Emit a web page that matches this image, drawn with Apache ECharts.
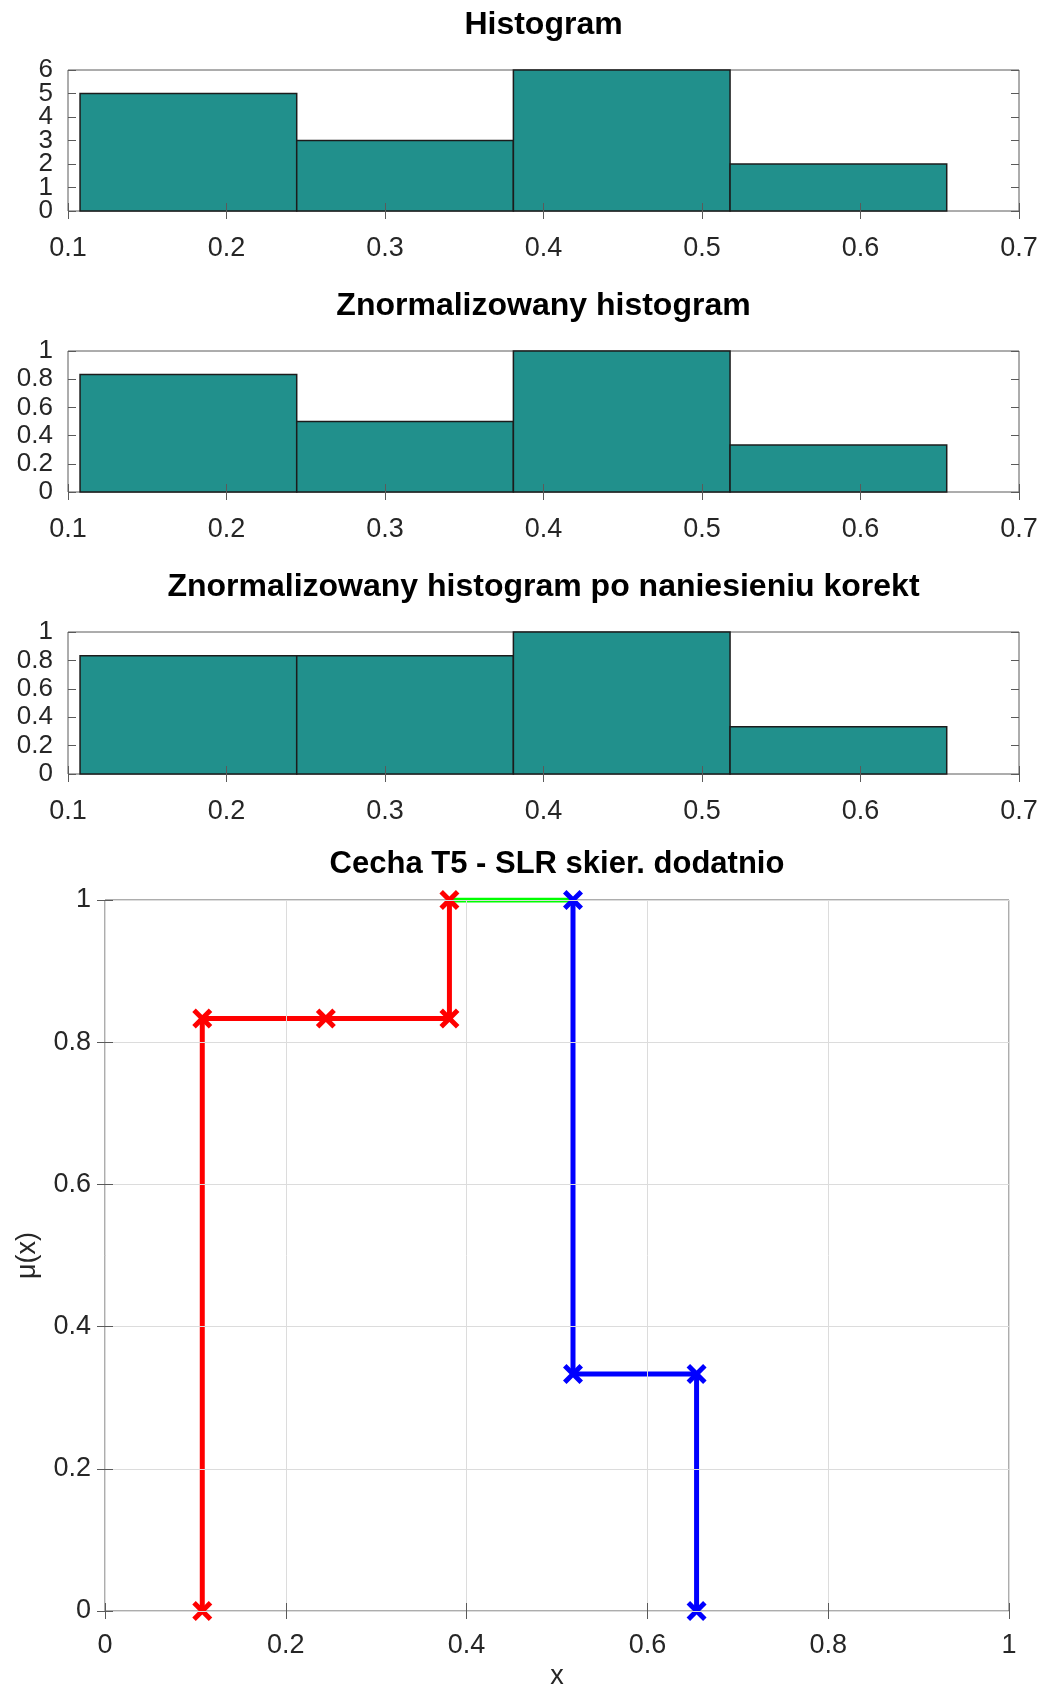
<!DOCTYPE html>
<html><head><meta charset="utf-8">
<script src="https://cdn.jsdelivr.net/npm/echarts@6/dist/echarts.min.js"></script>
<style>html,body{margin:0;padding:0;background:#fff}#chart{width:1043px;height:1690px}</style>
</head><body><div id="chart"></div>
<script>
// ---- data ----
const binEdges = [0.1076, 0.2443, 0.3810, 0.5177, 0.6544];
const counts = [5, 3, 6, 2];
const normalized = [0.8333, 0.5, 1, 0.3333];
const corrected = [0.8333, 0.8333, 1, 0.3333];

const redX = [0.1076, 0.1076, 0.2443, 0.3810, 0.3810];
const redY = [0, 0.8333, 0.8333, 0.8333, 1];
const greenX = [0.3810, 0.5177];
const greenY = [1, 1];
const blueX = [0.5177, 0.5177, 0.6544, 0.6544];
const blueY = [1, 0.3333, 0.3333, 0];

const titles = ['Histogram', 'Znormalizowany histogram',
  'Znormalizowany histogram po naniesieniu korekt', 'Cecha T5 - SLR skier. dodatnio'];
const histX = {min: 0.1, max: 0.7, interval: 0.1};
const histY = [{min: 0, max: 6, interval: 1}, {min: 0, max: 1, interval: 0.2}, {min: 0, max: 1, interval: 0.2}];
const countLabelsEven = [0, 2, 4, 6];
const countLabelsOdd = [1, 3, 5];
const mfAxis = {min: 0, max: 1, interval: 0.2};
const xName = 'x';
const yName = 'μ(x)';

// ---- layout ----
const FONT = 'Liberation Sans, Arial, Helvetica, sans-serif';
const TXT = '#262626';
const BOX = '#5a5a5a';
const histGrids = [
  {left: 68, right: 24, top: 70, height: 141},
  {left: 68, right: 24, top: 351, height: 141},
  {left: 68, right: 24, top: 632, height: 142}
];
const mfGrid = {left: 105, right: 34, top: 900, height: 711};
const titleY = [25, 306, 587, 864];
const titleX = [543.5, 543.5, 543.5, 557];
const titleSize = [32, 32, 32, 31];

const grid = [];
const xAxis = [];
const yAxis = [];
const series = [];
const gridBase = {show: true, borderColor: BOX, borderWidth: 1, backgroundColor: '#fff', containLabel: false, outerBoundsMode: 'none'};

function hidden(extra) {
  return Object.assign({
    axisLine: {show: false},
    axisLabel: {show: false},
    splitLine: {show: false},
    axisTick: {show: true, inside: true, length: 8, lineStyle: {color: BOX, width: 1}},
    z: 5
  }, extra);
}

function histRender(params, api) {
  const x0 = api.value(0), x1 = api.value(1), h = api.value(2);
  const p0 = api.coord([x0, 0]);
  const p1 = api.coord([x1, h]);
  return {
    type: 'rect',
    shape: {x: p0[0], y: p1[1], width: p1[0] - p0[0], height: p0[1] - p1[1]},
    style: {fill: '#21908c', stroke: '#1c1c1c', lineWidth: 1.5}
  };
}

const labelBase = {color: TXT, fontFamily: FONT, hideOverlap: false, showMinLabel: true, showMaxLabel: true};
const yLabelStyle = Object.assign({fontSize: 26, margin: 15}, labelBase);

const histValues = [counts, normalized, corrected];
histGrids.forEach((g, i) => {
  grid.push(Object.assign({}, gridBase, g));
  const xi = xAxis.length, yi = yAxis.length;
  xAxis.push(Object.assign({
    type: 'value', gridIndex: i, position: 'bottom',
    axisLine: {show: false}, splitLine: {show: false},
    axisTick: {show: true, inside: true, length: 8, lineStyle: {color: BOX}},
    axisLabel: Object.assign({fontSize: 27, margin: 24}, labelBase),
    z: 5
  }, histX));
  xAxis.push(hidden(Object.assign({type: 'value', gridIndex: i, position: 'top'}, histX)));
  const yLabel = i === 0 ? Object.assign({customValues: countLabelsEven}, yLabelStyle) : yLabelStyle;
  yAxis.push(Object.assign({
    type: 'value', gridIndex: i, position: 'left',
    axisLine: {show: false}, splitLine: {show: false},
    axisTick: {show: true, inside: true, length: 8, lineStyle: {color: BOX}},
    axisLabel: yLabel,
    z: 5
  }, histY[i]));
  yAxis.push(hidden(Object.assign({type: 'value', gridIndex: i, position: 'right'}, histY[i])));
  if (i === 0) {
    // second label layer so adjacent count labels are not dropped for overlap
    yAxis.push(Object.assign({
      type: 'value', gridIndex: i, position: 'left',
      axisLine: {show: false}, splitLine: {show: false}, axisTick: {show: false},
      axisLabel: Object.assign({customValues: countLabelsOdd}, yLabelStyle),
      z: 5
    }, histY[i]));
  }
  const vals = histValues[i];
  series.push({
    type: 'custom', xAxisIndex: xi, yAxisIndex: yi,
    renderItem: histRender,
    encode: {x: [0, 1], y: 2},
    data: vals.map((v, k) => [binEdges[k], binEdges[k + 1], v]),
    z: 2
  });
});

// membership plot
grid.push(Object.assign({}, gridBase, mfGrid));
const gi = 3;
const mxi = xAxis.length, myi = yAxis.length;
xAxis.push(Object.assign({
  type: 'value', gridIndex: gi, position: 'bottom',
  name: xName, nameLocation: 'middle', nameGap: 52,
  nameTextStyle: {color: TXT, fontSize: 27, fontFamily: FONT},
  axisLine: {show: false},
  splitLine: {show: true, lineStyle: {color: '#dcdcdc', width: 1}},
  axisTick: {show: true, inside: true, length: 8, lineStyle: {color: BOX}},
  axisLabel: Object.assign({fontSize: 27, margin: 21}, labelBase),
  z: 5
}, mfAxis));
xAxis.push(hidden(Object.assign({type: 'value', gridIndex: gi, position: 'top'}, mfAxis)));
yAxis.push(Object.assign({
  type: 'value', gridIndex: gi, position: 'left',
  name: yName, nameLocation: 'middle', nameGap: 64, nameRotate: 90,
  nameTextStyle: {color: TXT, fontSize: 27, fontFamily: FONT},
  axisLine: {show: false},
  splitLine: {show: true, lineStyle: {color: '#dcdcdc', width: 1}},
  axisTick: {show: true, inside: true, length: 8, lineStyle: {color: BOX}},
  axisLabel: Object.assign({fontSize: 27, margin: 14}, labelBase),
  z: 5
}, mfAxis));
yAxis.push(hidden(Object.assign({type: 'value', gridIndex: gi, position: 'right'}, mfAxis)));

const XMARK = 'path://M3.5,0L10,6.5L16.5,0L20,3.5L13.5,10L20,16.5L16.5,20L10,13.5L3.5,20L0,16.5L6.5,10L0,3.5Z';
function lineSeries(xs, ys, color, marks) {
  return {
    type: 'line', xAxisIndex: mxi, yAxisIndex: myi,
    data: xs.map((x, k) => [x, ys[k]]),
    lineStyle: {color: color, width: 5},
    itemStyle: {color: color},
    symbol: marks ? XMARK : 'none',
    symbolSize: 20,
    showSymbol: marks,
    z: 3
  };
}
series.push(lineSeries(redX, redY, '#ff0000', true));
series.push(lineSeries(greenX, greenY, '#00ff00', false));
series.push(lineSeries(blueX, blueY, '#0000ff', true));

const title = titles.map((t, i) => ({
  text: t, left: titleX[i], top: titleY[i], padding: 0,
  textAlign: 'center', textVerticalAlign: 'middle',
  textStyle: {color: '#000', fontSize: titleSize[i], fontWeight: 'bold', fontFamily: FONT}
}));

const chart = echarts.init(document.getElementById('chart'), null, {renderer: 'canvas'});
chart.setOption({
  animation: false,
  backgroundColor: '#fff',
  title: title,
  grid: grid,
  xAxis: xAxis,
  yAxis: yAxis,
  series: series
});
</script>
</body></html>
